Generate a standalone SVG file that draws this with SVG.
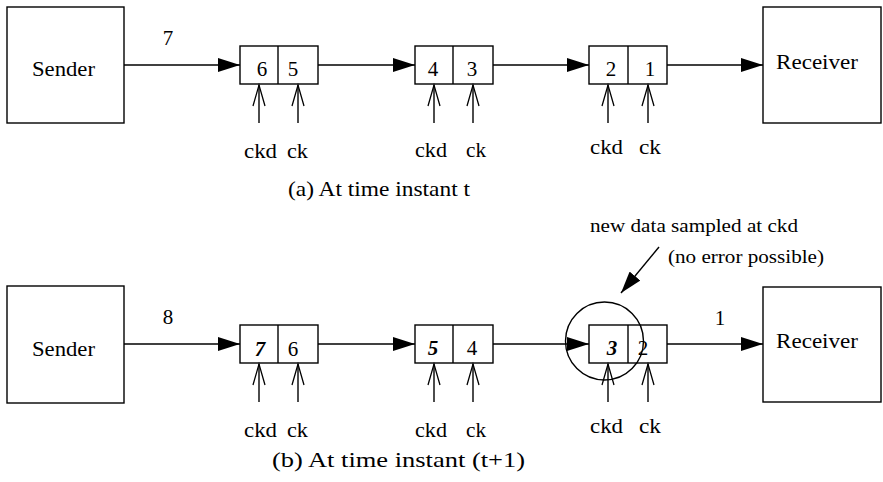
<svg xmlns="http://www.w3.org/2000/svg" width="883" height="482" viewBox="0 0 883 482">
  <style>
    .box { fill: #fff; stroke: #000; stroke-width: 1.4; }
    .wire { fill: none; stroke: #000; stroke-width: 1.4; }
    text { font-family: 'Liberation Serif', 'Times New Roman', serif; fill: #000; font-size: 21px; }
    .d { text-anchor: middle; }
    .bi { font-weight: bold; font-style: italic; }
    .s { font-size: 19px; }
  </style>
  <defs>
    <marker id="head" viewBox="0 0 22 14" refX="22" refY="7" markerWidth="22" markerHeight="14" markerUnits="userSpaceOnUse" orient="auto">
      <path d="M0,0 L22,7 L0,14 z" fill="#000"/>
    </marker>
    <marker id="clk" viewBox="-1 -1 23 14" refX="21" refY="6" markerWidth="23" markerHeight="14" markerUnits="userSpaceOnUse" orient="auto" overflow="visible">
      <path d="M0,0 L21,6 L0,12" fill="none" stroke="#000" stroke-width="1.3"/>
    </marker>
  </defs>

  <!-- (a) time instant t -->
  <g id="sender-a">
    <rect class="box" x="7" y="7" width="117" height="116"/>
    <text x="32" y="76" textLength="63" lengthAdjust="spacingAndGlyphs">Sender</text>
  </g>
  <g id="reg1-a">
    <rect class="box" x="240" y="46" width="78" height="38"/>
    <line class="wire" x1="278" y1="46" x2="278" y2="84" stroke-width="2"/>
    <text class="d" x="262" y="76">6</text>
    <text class="d" x="293" y="76">5</text>
    <text x="244" y="158" textLength="33" lengthAdjust="spacingAndGlyphs">ckd</text>
    <text x="287" y="158" textLength="21" lengthAdjust="spacingAndGlyphs">ck</text>
  </g>
  <g id="reg2-a">
    <rect class="box" x="415" y="46" width="78" height="38"/>
    <line class="wire" x1="453" y1="46" x2="453" y2="84"/>
    <text class="d" x="433" y="76">4</text>
    <text class="d" x="472" y="76">3</text>
    <text x="415" y="157" textLength="32" lengthAdjust="spacingAndGlyphs">ckd</text>
    <text x="466" y="157" textLength="20" lengthAdjust="spacingAndGlyphs">ck</text>
  </g>
  <g id="reg3-a">
    <rect class="box" x="589" y="46" width="78" height="38"/>
    <line class="wire" x1="628" y1="46" x2="628" y2="84"/>
    <text class="d" x="611" y="76">2</text>
    <text class="d" x="650" y="76">1</text>
    <text x="590" y="154" textLength="33" lengthAdjust="spacingAndGlyphs">ckd</text>
    <text x="639" y="154" textLength="22" lengthAdjust="spacingAndGlyphs">ck</text>
  </g>
  <g id="receiver-a">
    <rect class="box" x="763" y="7" width="118" height="116"/>
    <text x="776" y="69" textLength="82" lengthAdjust="spacingAndGlyphs">Receiver</text>
  </g>
  <text x="288" y="196" textLength="182" lengthAdjust="spacingAndGlyphs">(a) At time instant t</text>
  <text class="d" x="168" y="45">7</text>

  <!-- (b) time instant t+1 -->
  <g id="sender-b">
    <rect class="box" x="7" y="286" width="117" height="117"/>
    <text x="32" y="356" textLength="63" lengthAdjust="spacingAndGlyphs">Sender</text>
  </g>
  <g id="reg1-b">
    <rect class="box" x="240" y="325" width="78" height="38"/>
    <line class="wire" x1="278" y1="325" x2="278" y2="363" stroke-width="2"/>
    <text class="d bi" x="260" y="356">7</text>
    <text class="d" x="293" y="356">6</text>
    <text x="244" y="437" textLength="33" lengthAdjust="spacingAndGlyphs">ckd</text>
    <text x="287" y="437" textLength="21" lengthAdjust="spacingAndGlyphs">ck</text>
  </g>
  <g id="reg2-b">
    <rect class="box" x="415" y="325" width="78" height="38"/>
    <line class="wire" x1="453" y1="325" x2="453" y2="363"/>
    <text class="d bi" x="433" y="355">5</text>
    <text class="d" x="472" y="355">4</text>
    <text x="415" y="437" textLength="32" lengthAdjust="spacingAndGlyphs">ckd</text>
    <text x="466" y="437" textLength="20" lengthAdjust="spacingAndGlyphs">ck</text>
  </g>
  <g id="reg3-b">
    <rect class="box" x="589" y="325" width="78" height="38"/>
    <line class="wire" x1="628" y1="325" x2="628" y2="363"/>
    <text class="d bi" x="612" y="355">3</text>
    <text class="d" x="643" y="355">2</text>
    <text x="590" y="433" textLength="33" lengthAdjust="spacingAndGlyphs">ckd</text>
    <text x="639" y="433" textLength="22" lengthAdjust="spacingAndGlyphs">ck</text>
  </g>
  <g id="receiver-b">
    <rect class="box" x="763" y="287" width="118" height="115"/>
    <text x="776" y="348" textLength="82" lengthAdjust="spacingAndGlyphs">Receiver</text>
  </g>
  <text x="272" y="467" textLength="253" lengthAdjust="spacingAndGlyphs">(b) At time instant (t+1)</text>
  <text class="d" x="168" y="324">8</text>
  <text class="d" x="720" y="325">1</text>

  <!-- highlight of the newly sampled stage -->
  <g id="note">
    <circle class="wire" cx="604.5" cy="341" r="39"/>
    <text class="s" x="590" y="232" textLength="208" lengthAdjust="spacingAndGlyphs">new data sampled at ckd</text>
    <text class="s" x="668" y="263" textLength="156" lengthAdjust="spacingAndGlyphs">(no error possible)</text>
  </g>

  <g id="connectors">
    <!-- data path (a) -->
    <line class="wire" x1="124" y1="65" x2="240" y2="65" marker-end="url(#head)"/>
    <line class="wire" x1="318" y1="65" x2="415" y2="65" marker-end="url(#head)"/>
    <line class="wire" x1="493" y1="65" x2="589" y2="65" marker-end="url(#head)"/>
    <line class="wire" x1="667" y1="65" x2="763" y2="65" marker-end="url(#head)"/>
    <!-- clocks (a) -->
    <line class="wire" x1="259" y1="123" x2="259" y2="85" marker-end="url(#clk)"/>
    <line class="wire" x1="298" y1="123" x2="298" y2="85" marker-end="url(#clk)"/>
    <line class="wire" x1="434" y1="123" x2="434" y2="85" marker-end="url(#clk)"/>
    <line class="wire" x1="473" y1="123" x2="473" y2="85" marker-end="url(#clk)"/>
    <line class="wire" x1="608" y1="123" x2="608" y2="85" marker-end="url(#clk)"/>
    <line class="wire" x1="648" y1="123" x2="648" y2="85" marker-end="url(#clk)"/>
    <!-- data path (b) -->
    <line class="wire" x1="124" y1="344" x2="240" y2="344" marker-end="url(#head)"/>
    <line class="wire" x1="318" y1="344" x2="415" y2="344" marker-end="url(#head)"/>
    <line class="wire" x1="493" y1="344" x2="589" y2="344" marker-end="url(#head)"/>
    <line class="wire" x1="667" y1="344" x2="763" y2="344" marker-end="url(#head)"/>
    <!-- clocks (b) -->
    <line class="wire" x1="259" y1="402" x2="259" y2="364" marker-end="url(#clk)"/>
    <line class="wire" x1="298" y1="402" x2="298" y2="364" marker-end="url(#clk)"/>
    <line class="wire" x1="434" y1="402" x2="434" y2="364" marker-end="url(#clk)"/>
    <line class="wire" x1="473" y1="402" x2="473" y2="364" marker-end="url(#clk)"/>
    <line class="wire" x1="608" y1="402" x2="608" y2="364" marker-end="url(#clk)"/>
    <line class="wire" x1="648" y1="402" x2="648" y2="364" marker-end="url(#clk)"/>
    <!-- pointer to the circled stage -->
    <line class="wire" x1="659" y1="247" x2="621" y2="293" marker-end="url(#head)"/>
  </g>
</svg>
